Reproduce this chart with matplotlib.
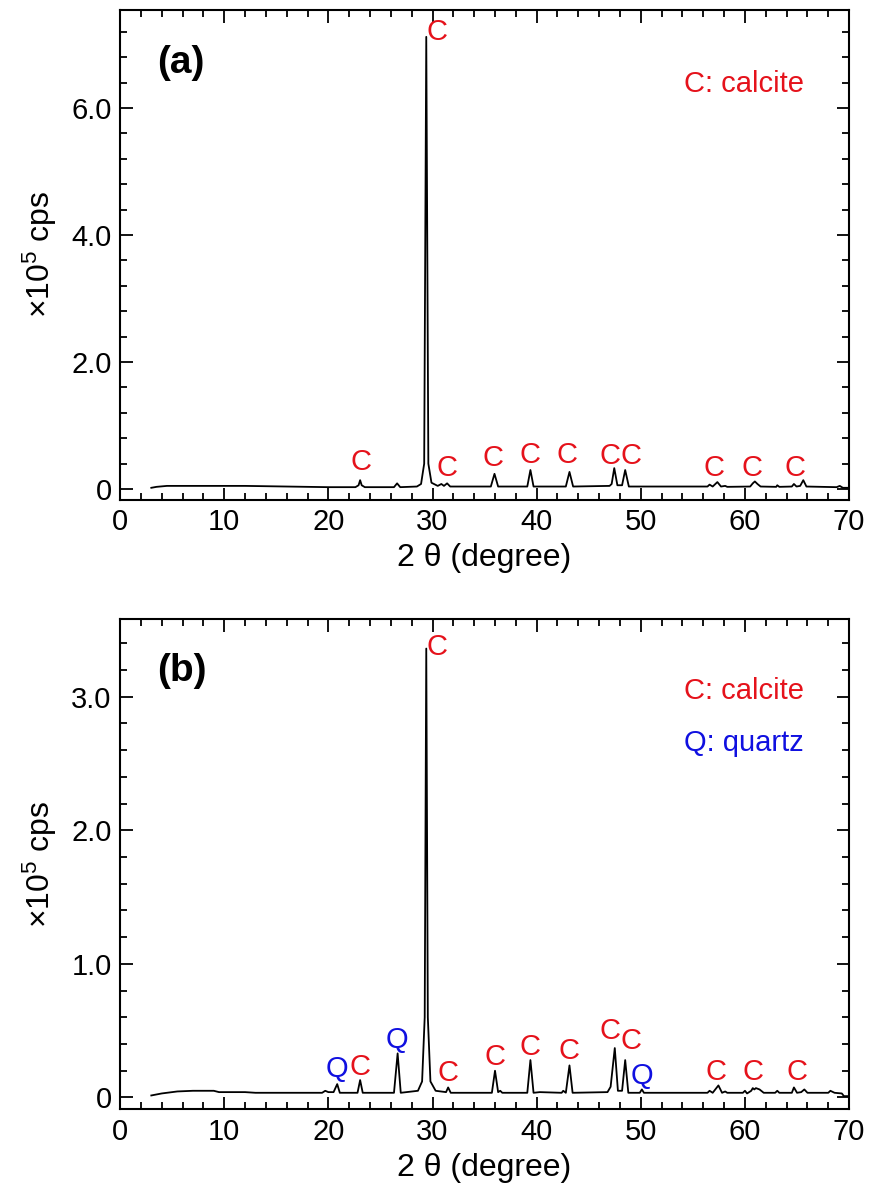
import matplotlib
matplotlib.use('Agg')
import matplotlib.pyplot as plt
from matplotlib.ticker import MultipleLocator

plt.rcParams['font.family'] = ['Liberation Sans', 'DejaVu Sans']
plt.rcParams['mathtext.fontset'] = 'custom'
plt.rcParams['mathtext.rm'] = 'Liberation Sans'

# ---- panel (a): calcite only (x10^5 cps) ----
tth_a = [3.0, 3.5, 4.5, 8.0, 12.0, 14.0, 18.0, 20.0, 22.6, 22.9, 23.05, 23.2, 23.5,
         26.3, 26.6, 26.9, 28.5, 28.9, 29.2, 29.4, 29.6, 29.9, 30.5, 30.85, 31.1,
         31.4, 31.7, 35.6, 35.95, 36.3, 39.1, 39.4, 39.7, 42.8, 43.15, 43.5,
         47.0, 47.2, 47.45, 47.75, 48.2, 48.5, 48.85, 56.4, 56.6, 56.9, 57.35,
         57.7, 58.1, 58.3, 60.5, 60.75, 60.95, 61.2, 61.5, 63.0, 63.1, 63.3,
         64.5, 64.7, 64.95, 65.3, 65.6, 65.9, 68.8, 69.1, 69.4, 70.0]
int_a = [0.02, 0.035, 0.05, 0.05, 0.05, 0.045, 0.035, 0.03, 0.03, 0.06, 0.14, 0.06, 0.03,
         0.03, 0.09, 0.03, 0.04, 0.08, 0.4, 7.12, 0.4, 0.1, 0.05, 0.08, 0.05,
         0.09, 0.04, 0.04, 0.24, 0.04, 0.04, 0.30, 0.04, 0.04, 0.27, 0.04,
         0.05, 0.08, 0.33, 0.06, 0.06, 0.30, 0.04, 0.04, 0.07, 0.04, 0.11,
         0.04, 0.05, 0.035, 0.04, 0.09, 0.12, 0.08, 0.04, 0.035, 0.06, 0.035,
         0.04, 0.08, 0.04, 0.05, 0.14, 0.04, 0.03, 0.05, 0.02, 0.02]

# peak labels (a)
lab_a_x = [23.1, 30.4, 31.4, 35.8, 39.4, 42.9, 47.0, 49.1, 57.05, 60.7, 64.8]
lab_a_y = [0.43, 7.2, 0.33, 0.49, 0.54, 0.54, 0.52, 0.52, 0.33, 0.33, 0.33]
lab_a_t = ['C'] * 11

# ---- panel (b): calcite + quartz ----
tth_b = [3.0, 4.0, 5.5, 7.0, 9.0, 9.5, 12.0, 13.0, 16.0, 19.4, 19.7, 20.0, 20.5,
         20.85, 21.1, 22.8, 23.05, 23.3, 26.3, 26.65, 26.95, 28.6, 29.0, 29.25,
         29.4, 29.55, 29.8, 30.3, 31.3, 31.5, 31.75, 35.7, 36.0, 36.3, 36.5, 36.7,
         39.1, 39.4, 39.7, 40.3, 42.4, 42.55, 42.8, 43.15, 43.45, 46.8, 47.1,
         47.5, 47.8, 48.2, 48.5, 48.8, 49.9, 50.1, 50.3, 56.4, 56.6, 56.9, 57.45,
         57.8, 58.1, 58.3, 59.8, 60.0, 60.2, 60.6, 60.75, 60.9, 61.05, 61.4, 61.8,
         62.9, 63.1, 63.3, 64.5, 64.7, 65.0, 65.4, 65.7, 66.0, 68.0, 68.2, 68.6,
         69.3, 69.5, 70.0]
int_b = [0.015, 0.03, 0.045, 0.05, 0.05, 0.04, 0.04, 0.035, 0.035, 0.035, 0.05, 0.04, 0.04,
         0.10, 0.035, 0.035, 0.13, 0.035, 0.035, 0.33, 0.035, 0.05, 0.12, 0.6,
         3.36, 0.6, 0.12, 0.05, 0.04, 0.075, 0.035, 0.035, 0.20, 0.04, 0.05, 0.035,
         0.035, 0.28, 0.035, 0.04, 0.035, 0.05, 0.035, 0.24, 0.035, 0.04, 0.08,
         0.37, 0.05, 0.05, 0.28, 0.035, 0.035, 0.06, 0.035, 0.035, 0.05, 0.035, 0.09,
         0.035, 0.045, 0.035, 0.035, 0.05, 0.03, 0.05, 0.07, 0.06, 0.07, 0.06, 0.035,
         0.035, 0.05, 0.035, 0.035, 0.075, 0.035, 0.04, 0.06, 0.035, 0.035, 0.05, 0.035,
         0.03, 0.01, 0.01]

lab_b_x = [20.85, 23.05, 26.6, 30.45, 31.5, 36.0, 39.4, 43.1, 47.0, 49.1, 50.1, 57.25, 60.8, 65.0]
lab_b_y = [0.21, 0.23, 0.43, 3.37, 0.18, 0.30, 0.38, 0.35, 0.50, 0.42, 0.16, 0.19, 0.19, 0.19]
lab_b_t = ['Q', 'C', 'Q', 'C', 'C', 'C', 'C', 'C', 'C', 'C', 'Q', 'C', 'C', 'C']

RED = '#e5121b'
BLUE = '#1010e0'
colors = {'C': RED, 'Q': BLUE}

fig = plt.figure(figsize=(8.7, 11.93), dpi=100)
ax1 = fig.add_axes([0.138, 0.581, 0.838, 0.411])
ax2 = fig.add_axes([0.138, 0.070, 0.838, 0.411])


def style(ax, ymax, ymin, ymin_step, yticks, ylabels):
    ax.set_xlim(0, 70)
    ax.set_ylim(ymin, ymax)
    ax.xaxis.set_major_locator(MultipleLocator(10))
    ax.xaxis.set_minor_locator(MultipleLocator(2))
    ax.set_yticks(yticks)
    ax.set_yticklabels(ylabels)
    ax.yaxis.set_minor_locator(MultipleLocator(ymin_step))
    ax.tick_params(which='both', direction='in', top=True, right=True, width=1.3,
                   labelsize=21, pad=6)
    ax.tick_params(which='major', length=9)
    ax.tick_params(which='minor', length=5)
    for s in ax.spines.values():
        s.set_linewidth(1.5)
    ax.set_xlabel('2 θ (degree)', fontsize=23, labelpad=5)
    ax.set_ylabel(r'$\mathregular{\times 10^5}$ cps', fontsize=23, labelpad=9)


ax1.plot(tth_a, int_a, color='black', lw=1.3)
style(ax1, 7.55, -0.17, 0.4, [0, 2, 4, 6], ['0', '2.0', '4.0', '6.0'])
for x, y, t in zip(lab_a_x, lab_a_y, lab_a_t):
    ax1.text(x, y, t, color=colors[t], fontsize=21, ha='center', va='center')
ax1.text(3.6, 6.71, '(a)', fontsize=28, fontweight='bold', va='center')
ax1.text(54.1, 6.38, 'C: calcite', color=RED, fontsize=21, va='center')

ax2.plot(tth_b, int_b, color='black', lw=1.3)
style(ax2, 3.58, -0.09, 0.2, [0, 1, 2, 3], ['0', '1.0', '2.0', '3.0'])
for x, y, t in zip(lab_b_x, lab_b_y, lab_b_t):
    ax2.text(x, y, t, color=colors[t], fontsize=21, ha='center', va='center')
ax2.text(3.6, 3.19, '(b)', fontsize=28, fontweight='bold', va='center')
ax2.text(54.1, 3.04, 'C: calcite', color=RED, fontsize=21, va='center')
ax2.text(54.1, 2.65, 'Q: quartz', color=BLUE, fontsize=21, va='center')

fig.savefig('out.png', dpi=100)
